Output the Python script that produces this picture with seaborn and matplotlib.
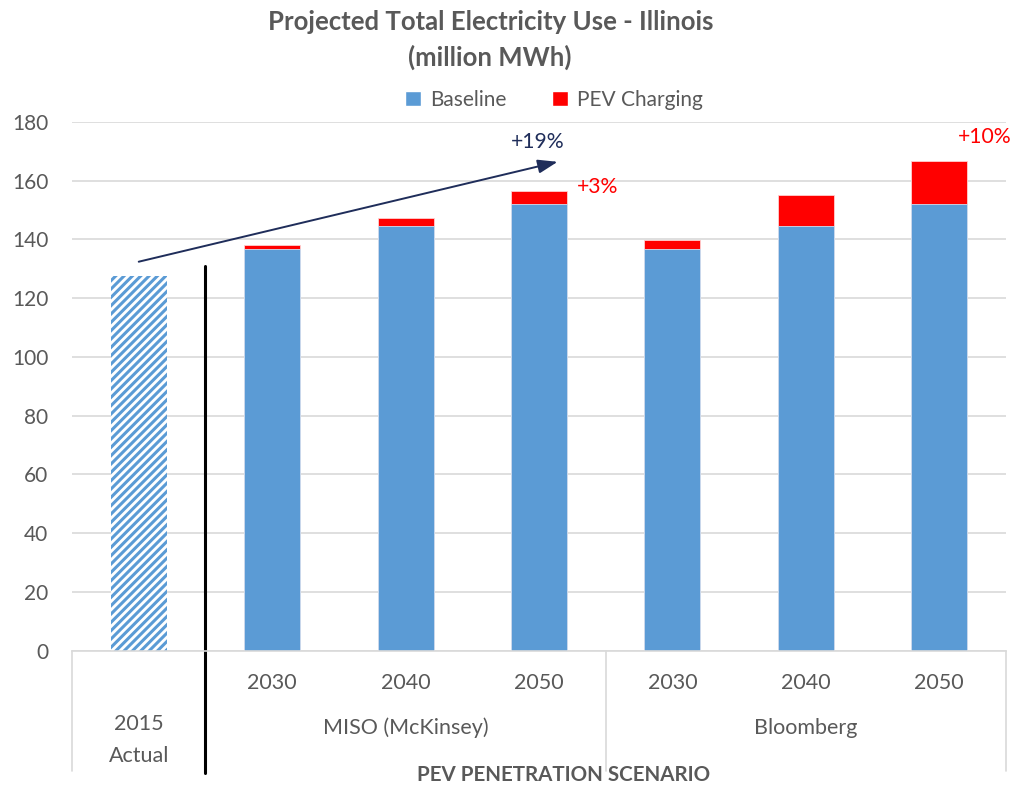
import matplotlib
matplotlib.use("Agg")
import matplotlib.pyplot as plt
import matplotlib.transforms as mtransforms
from matplotlib.patches import Patch
import seaborn as sns
import pandas as pd

# ---- data ----
bar_keys = ["2015 Actual", "MISO 2030", "MISO 2040", "MISO 2050", "BNEF 2030", "BNEF 2040", "BNEF 2050"]
year_labels = ["", "2030", "2040", "2050", "2030", "2040", "2050"]
group_labels = ["2015\nActual", "MISO (McKinsey)", "Bloomberg"]
baseline = [127.5, 136.8, 144.4, 152.0, 136.8, 144.4, 152.0]
pev_charging = [0.0, 1.4, 3.0, 4.6, 3.0, 10.8, 14.8]
pct_labels = ["+19%", "+3%", "+10%"]

sns.set_theme(style="white")
plt.rcParams["font.family"] = ["Lato", "DejaVu Sans"]
plt.rcParams["hatch.linewidth"] = 2.2

BLUE = "#5B9BD5"
RED = "#FF0000"
GREY = "#595959"
NAVY = "#1F2D5A"

df = pd.DataFrame({
    "key": bar_keys,
    "baseline": baseline,
    "total": [b + p for b, p in zip(baseline, pev_charging)],
})

fig = plt.figure(figsize=(10.16, 7.86), dpi=100)
ax = fig.add_axes([0.0709, 0.172, 0.9191, 0.673])

sns.barplot(data=df, x="key", y="total", order=bar_keys, color=RED, width=0.42,
            saturation=1, ax=ax, edgecolor="#ffd0d0", linewidth=0.6)
sns.barplot(data=df, x="key", y="baseline", order=bar_keys, color=BLUE, width=0.42,
            saturation=1, ax=ax, edgecolor="#cfe0f2", linewidth=0.6)

# hatch the 2015 actual bar
patches = ax.patches
n = len(bar_keys)
for p in (patches[0], patches[n]):
    p.set_facecolor("white")
    p.set_edgecolor(BLUE)
    p.set_hatch("////")
    p.set_linewidth(0)

ax.set_ylim(0, 180)
ax.set_xlim(-0.5, n - 0.5)
ax.set_yticks(range(0, 181, 20))
ax.tick_params(axis="y", labelsize=15, labelcolor=GREY, length=0, pad=17)
ax.set_xticks([])
ax.set_xlabel("")
ax.set_ylabel("")
ax.grid(axis="y", color="#D9D9D9", linewidth=1.2)
ax.set_axisbelow(True)
for s in ["top", "right", "left"]:
    ax.spines[s].set_visible(False)
ax.spines["bottom"].set_color("#D9D9D9")
ax.spines["bottom"].set_linewidth(1.2)

# category labels
trans = mtransforms.blended_transform_factory(ax.transData, fig.transFigure)
for i, lab in enumerate(year_labels):
    if lab:
        ax.text(i, 1 - 683 / 786, lab, transform=trans, ha="center", va="center",
                fontsize=15.5, color=GREY)
ax.text(0, 1 - 740 / 786, group_labels[0], transform=trans, ha="center", va="center",
        fontsize=15.5, color=GREY, linespacing=1.75)
ax.text(2, 1 - 728 / 786, group_labels[1], transform=trans, ha="center", va="center",
        fontsize=15.5, color=GREY)
ax.text(5, 1 - 728 / 786, group_labels[2], transform=trans, ha="center", va="center",
        fontsize=15.5, color=GREY)
fig.text(564 / 1016, 1 - 775 / 786, "PEV PENETRATION SCENARIO", ha="center", va="center",
         fontsize=14.8, color=GREY, fontweight="bold")

# separator lines in category axis
for xv in [-0.5, 3.5, 6.5]:
    ax.plot([xv, xv], [0, -120 / 2.939], color="#D9D9D9", linewidth=1.2, clip_on=False)

# black divider line
ax.plot([0.5, 0.5], [131, -122 / 2.939], color="black", linewidth=2.2, clip_on=False)

# arrow and annotations
ax.annotate("", xy=(3.14, 166.4), xytext=(0.0, 132.4),
            arrowprops=dict(arrowstyle="-|>,head_length=1.0,head_width=0.35", color=NAVY, lw=1.4,
                            shrinkA=0, shrinkB=0))
ax.text(2.99, 173.0, pct_labels[0], ha="center", va="center", fontsize=15.2, color=NAVY)
ax.text(3.44, 157.9, pct_labels[1], ha="center", va="center", fontsize=15.2, color=RED)
ax.text(6.34, 174.9, pct_labels[2], ha="center", va="center", fontsize=15.2, color=RED)

# title
fig.text(491 / 1016, 1 - 22 / 786, "Projected Total Electricity Use - Illinois",
         ha="center", va="center", fontsize=18.5, fontweight="bold", color=GREY)
fig.text(490 / 1016, 1 - 57 / 786, "(million MWh)",
         ha="center", va="center", fontsize=18.5, fontweight="bold", color=GREY)

# legend
handles = [Patch(facecolor=BLUE, label="Baseline"), Patch(facecolor=RED, label="PEV Charging")]
fig.legend(handles=handles, loc="center", bbox_to_anchor=(554 / 1016, 1 - 100 / 786), ncol=2,
           frameon=False, fontsize=15, labelcolor=GREY, handlelength=0.75, handleheight=0.75,
           handletextpad=0.45, columnspacing=2.2)

fig.savefig("out.png", dpi=100)
